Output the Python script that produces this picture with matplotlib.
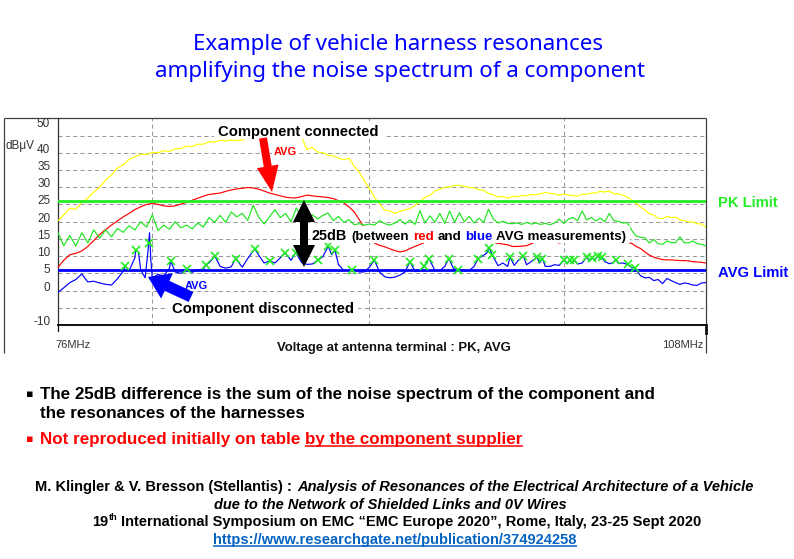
import matplotlib
matplotlib.use("Agg")
import matplotlib.pyplot as plt
from matplotlib import font_manager
from matplotlib import transforms
from matplotlib.patches import Rectangle, Polygon, FancyArrow

# ---------------- measurement data ----------------
# Sweep frequencies (MHz) shared by the PK / AVG traces
FREQ_MHZ = [
    76.00, 76.25, 76.50, 76.75, 77.00, 77.25, 77.50, 77.75,
    78.00, 78.25, 78.50, 78.75, 79.00, 79.25, 79.50, 79.75,
    80.00, 80.25, 80.50, 80.75, 81.00, 81.25, 81.50, 81.75,
    82.00, 82.25, 82.50, 82.75, 83.00, 83.25, 83.50, 83.75,
    84.00, 84.25, 84.50, 84.75, 85.00, 85.25, 85.50, 85.75,
    86.00, 86.25, 86.50, 86.75, 87.00, 87.25, 87.50, 87.75,
    88.00, 88.25, 88.50, 88.75, 89.00, 89.25, 89.50, 89.75,
    90.00, 90.25, 90.50, 90.75, 91.00, 91.25, 91.50, 91.75,
    92.00, 92.25, 92.50, 92.75, 93.00, 93.25, 93.50, 93.75,
    94.00, 94.25, 94.50, 94.75, 95.00, 95.25, 95.50, 95.75,
    96.00, 96.25, 96.50, 96.75, 97.00, 97.25, 97.50, 97.75,
    98.00, 98.25, 98.50, 98.75, 99.00, 99.25, 99.50, 99.75,
    100.00, 100.25, 100.50, 100.75, 101.00, 101.25, 101.50, 101.75,
    102.00, 102.25, 102.50, 102.75, 103.00, 103.25, 103.50, 103.75,
    104.00, 104.25, 104.50, 104.75, 105.00, 105.25, 105.50, 105.75,
    106.00, 106.25, 106.50, 106.75, 107.00, 107.25, 107.50, 107.75,
    108.00,
]

# Component connected, peak detector (yellow), dBuV
PK_CONNECTED = [
    20.2, 22.0, 23.9, 23.6, 25.6, 26.8, 28.6, 30.0,
    32.1, 33.5, 35.6, 36.5, 38.1, 38.8, 39.6, 39.5,
    40.1, 40.0, 40.6, 40.4, 41.1, 41.2, 41.9, 41.8,
    42.5, 42.5, 43.2, 43.1, 43.6, 43.4, 43.7, 43.5,
    43.7, 44.6, 45.0, 45.3, 45.4, 45.4, 45.6, 45.3,
    45.6, 45.3, 45.0, 44.5, 40.9, 41.6, 40.2, 40.0,
    39.3, 39.1, 38.4, 38.0, 38.4, 36.1, 34.4, 31.8,
    29.6, 27.0, 25.2, 23.3, 23.1, 22.4, 23.0, 23.4,
    23.8, 24.7, 25.9, 27.1, 27.6, 28.9, 29.4, 30.0,
    30.1, 30.5, 30.5, 30.3, 29.9, 29.8, 29.3, 29.1,
    28.2, 27.8, 27.1, 27.3, 26.8, 27.4, 27.2, 27.6,
    27.5, 27.9, 27.8, 28.1, 28.5, 28.2, 28.1, 27.7,
    28.0, 27.7, 27.6, 27.4, 28.0, 27.9, 28.3, 28.3,
    28.8, 28.6, 28.9, 28.1, 28.1, 27.7, 27.2, 26.2,
    25.3, 24.3, 23.4, 22.3, 21.9, 21.0, 20.9, 21.5,
    21.2, 21.3, 20.5, 20.3, 19.9, 19.9, 19.4, 19.3,
    18.4,
]

# Component connected, average detector (red), dBuV
AVG_CONNECTED = [
    6.6, 8.8, 10.4, 10.8, 11.5, 12.8, 14.5, 16.3,
    17.7, 19.0, 20.2, 21.4, 22.4, 23.5, 24.3, 25.0,
    25.3, 25.0, 24.6, 24.4, 24.6, 25.1, 25.6, 26.2,
    26.8, 27.4, 27.9, 28.1, 28.3, 28.8, 29.2, 29.5,
    29.7, 29.9, 29.8, 29.4, 28.9, 28.3, 27.9, 27.5,
    27.1, 26.9, 26.9, 27.3, 27.7, 27.5, 27.3, 27.2,
    27.0, 26.7, 26.1, 25.5, 24.3, 22.9, 20.6, 18.2,
    15.5, 13.8, 13.1, 12.7, 12.1, 11.6, 11.2, 11.5,
    12.2, 12.8, 13.4, 14.0, 14.5, 14.8, 15.0, 15.2,
    15.3, 15.4, 15.4, 15.3, 15.2, 15.0, 14.8, 14.6,
    14.3, 14.0, 13.7, 13.5, 13.3, 12.8, 12.8, 12.9,
    13.0, 13.6, 14.2, 14.4, 14.5, 14.4, 14.2, 13.8,
    14.1, 14.3, 14.5, 14.6, 14.7, 14.8, 14.8, 14.7,
    14.6, 14.5, 14.4, 14.3, 14.2, 14.1, 14.0, 13.7,
    12.8, 12.2, 11.2, 10.3, 9.7, 9.3, 9.0, 8.9,
    8.9, 8.8, 8.7, 8.7, 8.6, 8.4, 8.3, 8.2,
    8.0,
]

# Component disconnected, peak detector (green), dBuV
PK_DISCONNECTED = [
    17.0, 13.0, 16.0, 12.9, 16.8, 13.8, 17.6, 15.2,
    17.6, 15.6, 18.0, 16.9, 18.8, 17.6, 20.0, 18.4,
    22.0, 17.4, 19.0, 17.8, 20.0, 18.2, 19.0, 17.9,
    19.6, 18.4, 21.2, 19.8, 21.8, 19.8, 22.8, 21.4,
    22.4, 20.4, 24.8, 21.4, 19.3, 21.4, 23.5, 21.2,
    22.4, 19.9, 24.0, 21.0, 19.8, 22.0, 20.8, 21.8,
    22.5, 20.3, 21.5, 19.8, 20.6, 19.1, 19.4, 19.0,
    19.3, 19.0, 20.3, 19.4, 19.0, 19.6, 20.6, 19.3,
    20.5, 19.2, 23.2, 19.6, 21.7, 19.8, 22.4, 19.5,
    23.1, 19.8, 22.6, 20.0, 21.5, 19.6, 21.0, 19.8,
    23.6, 20.8, 19.6, 20.1, 19.5, 19.4, 19.6, 19.2,
    19.8, 19.3, 19.6, 19.2, 19.5, 19.1, 19.6, 20.7,
    19.5, 20.7, 21.2, 20.3, 23.1, 20.5, 21.2, 20.2,
    21.0, 20.0, 22.4, 20.3, 20.1, 19.6, 19.7, 17.5,
    15.8, 15.5, 15.3, 13.8, 14.8, 13.6, 13.4, 14.4,
    13.9, 13.9, 15.6, 13.9, 13.8, 14.4, 13.6, 13.4,
    13.0,
]

# Component disconnected, average detector (blue)
FREQ_AVG_DISC = [
    76.00, 76.25, 76.50, 76.75, 77.00, 77.25, 77.50, 77.75,
    78.00, 78.25, 78.50, 78.75, 78.83, 79.00, 79.25, 79.28,
    79.40, 79.50, 79.69, 79.80, 79.88, 79.94, 80.00, 80.25,
    80.50, 80.75, 80.80, 81.00, 81.25, 81.50, 81.54, 81.75,
    82.00, 82.25, 82.35, 82.50, 82.76, 83.00, 83.25, 83.50,
    83.70, 84.00, 84.25, 84.50, 84.58, 84.75, 85.00, 85.27,
    85.50, 85.75, 85.97, 86.25, 86.47, 86.75, 87.00, 87.25,
    87.54, 87.75, 88.01, 88.17, 88.33, 88.50, 88.75, 89.00,
    89.17, 89.50, 89.75, 90.00, 90.24, 90.50, 90.75, 91.00,
    91.25, 91.50, 91.75, 92.00, 92.25, 92.50, 92.72, 92.95,
    93.25, 93.50, 93.75, 93.96, 94.20, 94.44, 94.75, 95.00,
    95.25, 95.47, 95.75, 95.90, 96.03, 96.20, 96.50, 96.75,
    97.00, 97.13, 97.35, 97.55, 97.83, 98.00, 98.25, 98.55,
    98.70, 98.85, 99.00, 99.25, 99.50, 99.75, 100.02, 100.18,
    100.34, 100.45, 100.57, 100.75, 101.00, 101.25, 101.40, 101.56,
    101.70, 101.86, 102.00, 102.08, 102.25, 102.50, 102.70, 102.85,
    103.00, 103.25, 103.52, 103.75, 103.94, 104.25, 104.50, 104.75,
    105.00, 105.25, 105.50, 105.75, 106.00, 106.25, 106.50, 106.75,
    107.00, 107.25, 107.50, 107.75, 108.00,
]
AVG_DISCONNECTED = [
    -0.6, 0.8, 2.3, 3.2, 4.8, 2.5, 2.7, 2.2,
    1.8, 1.6, 3.4, 5.6, 7.1, 5.8, 9.5, 11.7,
    11.2, 6.0, 3.7, 10.5, 16.8, 8.6, 3.7, 4.7,
    4.2, 6.5, 8.6, 5.4, 5.0, 5.8, 6.4, 5.3,
    6.0, 6.2, 7.4, 8.0, 10.0, 7.0, 6.5, 6.9,
    9.3, 6.8, 9.3, 11.5, 12.0, 10.3, 8.0, 8.6,
    8.0, 9.5, 11.0, 8.8, 11.0, 8.1, 7.6, 7.7,
    8.9, 9.8, 12.9, 10.4, 11.7, 7.5, 5.9, 5.8,
    6.1, 5.4, 5.4, 6.8, 8.8, 5.3, 4.0, 3.7,
    3.9, 4.5, 5.4, 8.4, 5.5, 5.7, 7.1, 9.3,
    5.8, 5.8, 7.0, 9.3, 6.3, 6.1, 5.7, 5.8,
    7.0, 9.3, 10.3, 10.8, 12.4, 10.3, 7.2, 8.0,
    7.0, 9.7, 7.3, 8.7, 10.0, 7.5, 8.4, 9.7,
    8.0, 9.3, 7.0, 7.0, 7.5, 7.3, 8.9, 7.8,
    8.9, 8.0, 8.8, 7.7, 8.0, 9.7, 8.6, 9.5,
    8.8, 10.0, 9.2, 9.7, 8.4, 7.8, 8.0, 9.0,
    7.9, 8.0, 7.6, 6.6, 6.6, 4.3, 3.7, 3.8,
    2.9, 3.2, 2.0, 3.5, 2.9, 2.3, 1.8, 2.2,
    2.0, 1.6, 1.5, 2.2, 2.3,
]

# Peaks flagged by the receiver on the disconnected AVG trace
PEAK_FREQ = [
    78.83, 79.28, 79.87, 80.80, 81.54, 82.35, 82.76, 83.70, 84.58, 85.27,
    85.97, 86.47, 87.54, 88.01, 88.33, 89.17, 90.24, 92.00, 92.72, 92.95,
    93.96, 94.44, 95.47, 96.03, 96.20, 97.13, 97.83, 98.55, 98.85, 100.02,
    100.34, 100.57, 101.25, 101.56, 101.86, 102.08, 102.85, 103.52, 103.94,
]
PEAK_DB = [
    7.1, 11.7, 13.9, 8.6, 6.4, 7.4, 10.0, 9.3, 12.0, 8.6,
    11.0, 11.0, 8.9, 12.9, 11.7, 6.1, 8.8, 8.4, 7.1, 9.3,
    9.3, 6.1, 9.3, 12.4, 10.3, 9.7, 10.0, 9.7, 9.3, 8.9,
    8.9, 8.8, 9.7, 9.5, 10.0, 9.7, 9.0, 7.6, 6.6,
]

PK_LIMIT_DB = 26
AVG_LIMIT_DB = 6
F_START, F_STOP = 76, 108
GRID_FREQS = [80, 90, 100]
Y_LABELS = [50, 40, 35, 30, 25, 20, 15, 10, 5, 0, -10]

# ---------------- fonts ----------------
_installed = {f.name for f in font_manager.fontManager.ttflist}


def pick(*names):
    for n in names:
        if n in _installed:
            return n
    return "DejaVu Sans"


SANS = pick("Liberation Sans", "Arial")
NARROW = pick("Liberation Sans Narrow", "Arial Narrow", "Liberation Sans")
TITLE_FONT = pick("Noto Sans", "Open Sans", "DejaVu Sans")
plt.rcParams["font.family"] = [SANS, "DejaVu Sans"]

BLUE = "#0000ff"
GREEN = "#22ee22"
RED = "#ff0000"
YELLOW = "#ffff00"
LINK = "#0563c1"

# ---------------- figure ----------------
W, H = 794, 559
fig = plt.figure(figsize=(W / 100, H / 100), dpi=100)
fig.patch.set_facecolor("white")

ax_l, ax_r, ax_t, ax_b = 57.7, 705.7, 118.3, 325.0
ax = fig.add_axes([ax_l / W, 1 - ax_b / H, (ax_r - ax_l) / W, (ax_b - ax_t) / H])

ov = fig.add_axes([0, 0, 1, 1], zorder=10)
ov.set_xlim(0, W)
ov.set_ylim(H, 0)
ov.axis("off")
renderer = fig.canvas.get_renderer()

# ---------------- spectrum plot ----------------
ax.set_xscale("log")
ax.set_xlim(F_START, F_STOP)
ax.set_ylim(-10, 50)
ax.set_xticks(GRID_FREQS)
ax.xaxis.set_minor_locator(matplotlib.ticker.NullLocator())
ax.set_yticks(list(range(-10, 51, 5)))
ax.tick_params(length=0, labelbottom=False, labelleft=False)
ax.grid(True, color="#9a9a9a", lw=0.75, ls=(0, (4, 3)), zorder=0)
for side in ("top", "right"):
    ax.spines[side].set_visible(False)
ax.spines["left"].set_color("#303030")
ax.spines["left"].set_linewidth(0.9)
ax.spines["bottom"].set_color("#111111")
ax.spines["bottom"].set_linewidth(1.4)

ax.plot(FREQ_MHZ, PK_CONNECTED, color=YELLOW, lw=0.85, zorder=3)
ax.plot(FREQ_MHZ, AVG_CONNECTED, color=RED, lw=0.85, zorder=3)
ax.plot(FREQ_MHZ, PK_DISCONNECTED, color="#1ee61e", lw=0.85, zorder=3)
ax.plot(FREQ_AVG_DISC, AVG_DISCONNECTED, color=BLUE, lw=0.85, zorder=4)
ax.axhline(PK_LIMIT_DB, color=GREEN, lw=2.0, zorder=5)
ax.axhline(AVG_LIMIT_DB, color=BLUE, lw=2.0, zorder=5)
ax.plot(PEAK_FREQ, PEAK_DB, ls="none", marker="x", ms=6, mew=1.2,
        color=GREEN, zorder=6)

# level labels sit just above their grid line
tick_size = 9 if NARROW != SANS else 8.5
lab_tr = transforms.offset_copy(
    transforms.blended_transform_factory(ax.transAxes, ax.transData),
    fig=fig, x=-7.5, y=0, units="dots")
for v in Y_LABELS:
    ax.text(0, v, str(v), transform=lab_tr, ha="right",
            va="top" if v == max(Y_LABELS) else "baseline",
            fontsize=tick_size, family=[NARROW, "DejaVu Sans"], color="#333333")

# ---------------- text helpers ----------------
def _width(t):
    return t.get_window_extent(renderer=renderer).width


def _space(props, size):
    a = ov.text(0, 0, "n n", fontsize=size, **props)
    b = ov.text(0, 0, "nn", fontsize=size, **props)
    w = _width(a) - _width(b)
    a.remove()
    b.remove()
    return w


def line(runs, x, y, width=None, size=10.0, ha="left", zorder=6):
    """Draw styled runs on one baseline; optionally scale so they span `width` px."""
    placed = []
    cur = 0.0
    for text, props in runs:
        props = dict(props)
        rel = props.pop("rel", 1.0)
        rise = props.pop("rise", 0.0)
        under = props.pop("underline", False)
        core = text.strip(" ")
        lead = len(text) - len(text.lstrip(" "))
        trail = len(text) - len(text.rstrip(" "))
        sw = _space(props, size * rel) if (lead or trail) else 0.0
        cur += lead * sw
        t = ov.text(0, y, core, fontsize=size * rel, ha="left", va="baseline",
                    zorder=zorder, **props)
        w = _width(t)
        placed.append((t, cur, w, rel, rise, under))
        cur += w + trail * sw
    k = 1.0 if width is None else width / cur
    if ha == "left":
        x0 = x
    elif ha == "center":
        x0 = x - cur * k / 2
    else:
        x0 = x - cur * k
    for t, off, w, rel, rise, under in placed:
        t.set_fontsize(size * rel * k)
        t.set_position((x0 + off * k, y - rise * size * k * 100 / 72))
        if under:
            ov.plot([x0 + off * k, x0 + (off + w) * k], [y + 2.2, y + 2.2],
                    color=t.get_color(), lw=1.1, solid_capstyle="butt",
                    zorder=zorder)
    return size * k


def white_box(x0, y0, x1, y1):
    ov.add_patch(Rectangle((x0, y0), x1 - x0, y1 - y0, facecolor="white",
                           edgecolor="none", zorder=2))


bold = dict(family=[NARROW, SANS, "DejaVu Sans"], weight="bold")
bold_sans = dict(family=[SANS, "DejaVu Sans"], weight="bold")

# ---------------- title ----------------
title_props = dict(family=[TITLE_FONT, "DejaVu Sans"], color=BLUE)
line([("Example of vehicle harness resonances", title_props)], 399, 50,
     width=412, size=15, ha="center")
line([("amplifying the noise spectrum of a component", title_props)], 401, 77,
     width=492, size=15, ha="center")

# ---------------- frame around the analyser screenshot ----------------
frame_kw = dict(color="#404040", lw=0.9, zorder=1, solid_capstyle="butt")
ov.plot([3.5, 3.5], [ax_t, 353], **frame_kw)
ov.plot([ax_r, ax_r], [ax_t, 353], **frame_kw)
ov.plot([3.5, ax_r], [ax_t, ax_t], **frame_kw)
ov.plot([ax_l, ax_l], [ax_b, 331], color="#111111", lw=0.9, zorder=1)
ov.plot([ax_r, ax_r], [ax_b, 333], color="#111111", lw=2.0, zorder=1)

axis_lbl = dict(family=[NARROW, "DejaVu Sans"], color="#333333")
line([("dBμV", axis_lbl)], 6, 149, size=tick_size)
line([("76MHz", axis_lbl)], 55, 348, size=8)
line([("108MHz", axis_lbl)], 703, 348, size=8, ha="right")
line([("Voltage at antenna terminal : PK, AVG", dict(bold_sans, color="#111111"))],
     277, 351, width=236, size=9)

line([("PK Limit", dict(bold_sans, color=GREEN))], 718, 207, width=60, size=11)
line([("AVG Limit", dict(bold_sans, color=BLUE))], 718, 277, width=71, size=11)

# ---------------- annotations in the plot ----------------
white_box(214, 121, 384, 139)
line([("Component connected", dict(bold_sans, color="black"))], 218, 136,
     width=162, size=11)
white_box(168, 300, 358, 318)
line([("Component disconnected", dict(bold_sans, color="black"))], 172, 313,
     width=183, size=11)
white_box(272, 145, 299, 157)
line([("AVG", dict(bold_sans, color=RED))], 274, 155, width=23, size=8)
white_box(183, 280, 210, 290)
line([("AVG", dict(bold_sans, color=BLUE))], 185, 289, width=23, size=8)

white_box(310, 226, 630, 242.5)
line([("25dB ", dict(bold, color="black", rel=1.08)),
      ("(between ", dict(bold, color="black")),
      ("red ", dict(bold, color=RED)),
      ("and ", dict(bold, color="black")),
      ("blue ", dict(bold, color=BLUE)),
      ("AVG measurements)", dict(bold, color="black"))],
     312, 240, width=315, size=10)

# double-headed arrow spanning the 25 dB gap
cx, top, bot = 304, 200, 267
hw, hl, sw = 11, 22, 4
ov.add_patch(Polygon([(cx, top), (cx + hw, top + hl), (cx + sw, top + hl),
                      (cx + sw, bot - hl), (cx + hw, bot - hl), (cx, bot),
                      (cx - hw, bot - hl), (cx - sw, bot - hl),
                      (cx - sw, top + hl), (cx - hw, top + hl)],
                     closed=True, facecolor="black", edgecolor="none", zorder=7))
ov.add_patch(FancyArrow(263, 138, 9, 54, width=8, head_width=22, head_length=26,
                        length_includes_head=True, color=RED, lw=0, zorder=7))
ov.add_patch(FancyArrow(191, 297, -43, -20, width=11, head_width=28,
                        head_length=21, length_includes_head=True, color=BLUE,
                        lw=0, zorder=7))

# ---------------- bullet text ----------------
bullet = dict(family=["DejaVu Sans"], fontsize=8, ha="center", va="center")
ov.text(30, 394, "▪", color="black", **bullet)
body = dict(bold, color="black")
fs = line([("The 25dB difference is the sum of the noise spectrum of the component and", body)],
          40, 399, width=618, size=11)
line([("the resonances of the harnesses", body)], 40, 418, size=fs)
ov.text(30, 439, "▪", color=RED, **bullet)
line([("Not reproduced initially on table ", dict(bold, color=RED)),
      ("by the component supplier", dict(bold, color=RED, underline=True))],
     40, 444, size=fs)

# ---------------- reference ----------------
ref = dict(bold, color="black")
ref_it = dict(bold, color="black", style="italic")
rs = line([("M. Klingler & V. Bresson (Stellantis) : ", ref),
           ("Analysis of Resonances of the Electrical Architecture of a Vehicle", ref_it)],
          395, 491, width=720, size=10, ha="center")
line([("due to the Network of Shielded Links and 0V Wires", ref_it)], 390, 509,
     size=rs, ha="center")
line([("19", ref), ("th", dict(ref, rel=0.62, rise=0.38)),
      (" International Symposium on EMC \u201cEMC Europe 2020\u201d, Rome, Italy, 23-25 Sept 2020", ref)],
     397, 526, size=rs, ha="center")
line([("https://www.researchgate.net/publication/374924258",
       dict(bold, color=LINK, underline=True))], 395, 544, size=rs, ha="center")

fig.savefig("out.png", dpi=100, facecolor="white")
